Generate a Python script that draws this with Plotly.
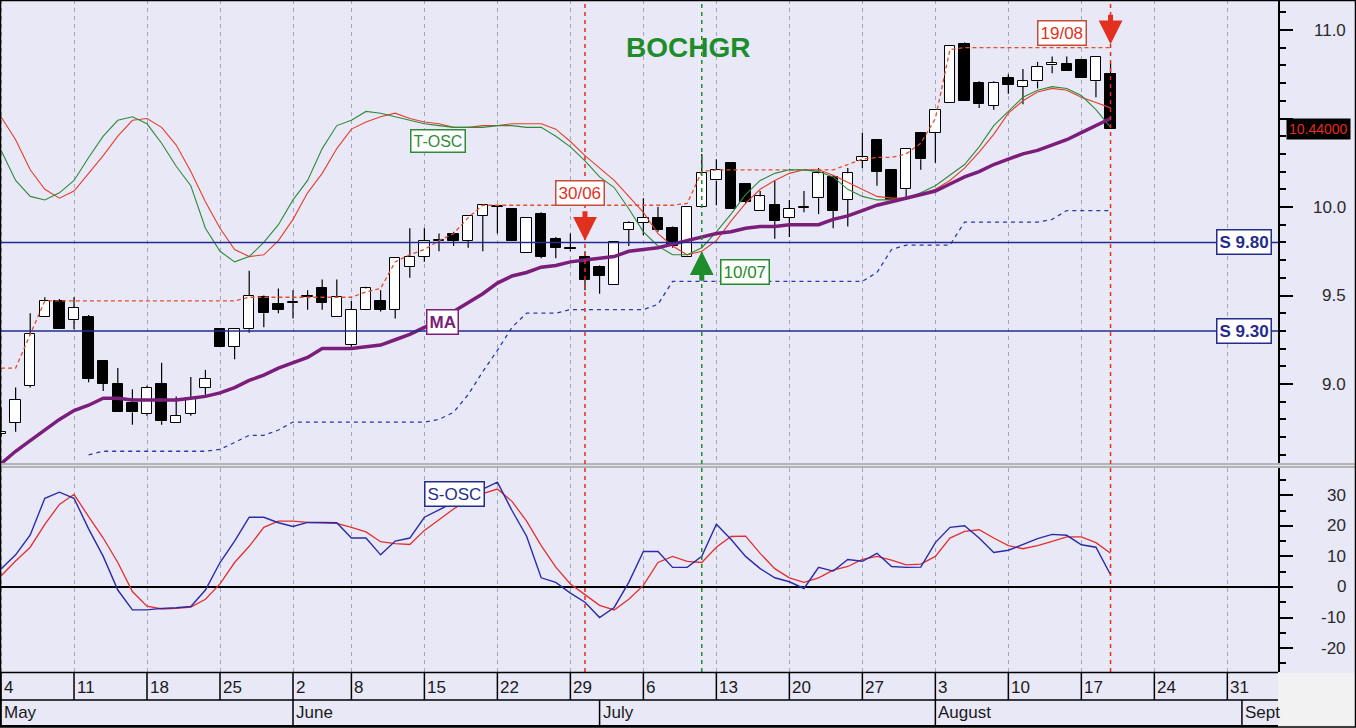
import plotly.graph_objects as go

# ---------------- DATA (trading-day index 0 = Mon 4 May) ----------------
opens = [8.72, 8.78, 8.99, 9.38, 9.47, 9.36, 9.38, 9.13, 9.00, 8.89,
         8.83, 9.00, 8.78, 8.83, 8.98, 9.31, 9.21, 9.31, 9.49, 9.45,
         9.46, 9.49, 9.54, 9.38, 9.22, 9.42, 9.47, 9.42, 9.66, 9.72,
         9.81, 9.85, 9.81, 9.95, 10.00, 9.99, 9.74, 9.96, 9.82, 9.765,
         9.72, 9.66, 9.56, 9.87, 9.91, 9.94, 9.88, 9.72, 10.00, 10.15,
         10.25, 10.13, 9.98, 10.01, 9.94, 9.995, 10.05, 10.17, 10.04, 10.26,
         10.38, 10.21, 10.10, 10.42, 10.42, 10.59, 10.92, 10.70, 10.57, 10.73,
         10.68, 10.71, 10.80, 10.81, 10.83, 10.71, 10.75]
highs = [8.87, 8.98, 9.40, 9.49, 9.48, 9.49, 9.39, 9.13, 9.09, 8.97,
         8.99, 9.12, 8.93, 9.04, 9.08, 9.31, 9.31, 9.64, 9.50, 9.54,
         9.53, 9.53, 9.59, 9.59, 9.47, 9.55, 9.53, 9.71, 9.88, 9.88,
         9.85, 9.86, 9.95, 10.01, 10.01, 9.99, 9.94, 9.97, 9.83, 9.85,
         9.75, 9.67, 9.80, 9.92, 10.05, 10.00, 9.89, 10.00, 10.30, 10.27,
         10.25, 10.13, 10.09, 10.15, 10.04, 10.09, 10.22, 10.18, 10.22, 10.42,
         10.38, 10.21, 10.33, 10.42, 10.55, 10.91, 10.93, 10.71, 10.71, 10.75,
         10.78, 10.82, 10.85, 10.85, 10.83, 10.85, 10.815]
lows = [8.70, 8.73, 8.98, 9.38, 9.31, 9.31, 9.01, 8.96, 8.84, 8.77,
        8.82, 8.77, 8.78, 8.82, 8.93, 9.21, 9.14, 9.29, 9.32, 9.40,
        9.37, 9.42, 9.42, 9.38, 9.21, 9.42, 9.41, 9.37, 9.60, 9.69,
        9.75, 9.78, 9.77, 9.75, 9.85, 9.81, 9.74, 9.71, 9.71, 9.75,
        9.53, 9.51, 9.56, 9.78, 9.84, 9.86, 9.77, 9.72, 10.00, 10.01,
        9.99, 10.02, 9.98, 9.82, 9.83, 9.97, 9.96, 9.88, 9.89, 10.22,
        10.12, 10.04, 10.04, 10.21, 10.25, 10.59, 10.60, 10.56, 10.55, 10.64,
        10.58, 10.67, 10.755, 10.77, 10.73, 10.62, 10.44]
closes = [8.73, 8.91, 9.28, 9.47, 9.31, 9.43, 9.03, 9.00, 8.84, 8.84,
          8.98, 8.79, 8.82, 8.92, 9.03, 9.21, 9.31, 9.50, 9.40, 9.42,
          9.465, 9.495, 9.46, 9.49, 9.42, 9.54, 9.42, 9.71, 9.72, 9.81,
          9.815, 9.81, 9.95, 10.01, 10.005, 9.81, 9.94, 9.72, 9.77, 9.76,
          9.59, 9.61, 9.80, 9.91, 9.94, 9.87, 9.78, 10.00, 10.19, 10.21,
          9.99, 10.03, 10.06, 9.92, 9.99, 10.00, 10.19, 9.98, 10.19, 10.28,
          10.20, 10.04, 10.33, 10.27, 10.55, 10.91, 10.60, 10.58, 10.70, 10.69,
          10.71, 10.79, 10.815, 10.77, 10.73, 10.85, 10.44]
ma = [8.55, 8.62, 8.68, 8.74, 8.80, 8.85, 8.88, 8.92, 8.92, 8.91,
      8.91, 8.91, 8.91, 8.92, 8.93, 8.95, 8.98, 9.02, 9.05, 9.09,
      9.12, 9.15, 9.20, 9.20, 9.20, 9.21, 9.22, 9.25, 9.28, 9.32,
      9.36, 9.41, 9.46, 9.51, 9.57, 9.61, 9.63, 9.66, 9.67, 9.69,
      9.70, 9.71, 9.72, 9.75, 9.76, 9.77, 9.79, 9.81, 9.83, 9.85,
      9.86, 9.88, 9.89, 9.89, 9.90, 9.90, 9.90, 9.93, 9.95, 9.98,
      10.01, 10.03, 10.05, 10.07, 10.09, 10.13, 10.17, 10.20, 10.24, 10.27,
      10.30, 10.32, 10.35, 10.38, 10.42, 10.46, 10.50]
upper_band = [9.09, 9.09, 9.28, 9.47, 9.47, 9.47, 9.47, 9.47, 9.47, 9.47,
              9.47, 9.47, 9.47, 9.47, 9.47, 9.47, 9.47, 9.49, 9.49, 9.49,
              9.49, 9.49, 9.49, 9.49, 9.49, 9.52, 9.54, 9.69, 9.73, 9.76,
              9.81, 9.85, 9.94, 10.01, 10.01, 10.01, 10.01, 10.01, 10.01, 10.01,
              10.01, 10.01, 10.01, 10.01, 10.01, 10.01, 10.01, 10.02, 10.20, 10.21,
              10.21, 10.21, 10.21, 10.21, 10.21, 10.21, 10.21, 10.21, 10.24, 10.27,
              10.28, 10.28, 10.30, 10.36, 10.50, 10.89, 10.90, 10.90, 10.90, 10.90,
              10.90, 10.90, 10.90, 10.90, 10.90, 10.90, 10.90]
lower_band = [None, None, None, None, None, None, 8.60, 8.62, 8.62, 8.62,
              8.62, 8.62, 8.62, 8.62, 8.62, 8.63, 8.67, 8.71, 8.71, 8.74,
              8.785, 8.785, 8.785, 8.785, 8.785, 8.785, 8.785, 8.785, 8.785, 8.785,
              8.80, 8.84, 8.94, 9.07, 9.19, 9.32, 9.40, 9.40, 9.40, 9.42,
              9.42, 9.42, 9.42, 9.42, 9.42, 9.45, 9.58, 9.58, 9.58, 9.58,
              9.58, 9.58, 9.58, 9.58, 9.58, 9.58, 9.58, 9.58, 9.58, 9.58,
              9.63, 9.76, 9.785, 9.785, 9.785, 9.785, 9.915, 9.915, 9.915, 9.915,
              9.915, 9.915, 9.93, 9.98, 9.98, 9.98, 9.98]
tosc_fast = [10.32, 10.15, 10.06, 10.04, 10.08, 10.15, 10.28, 10.40, 10.49, 10.51,
             10.47, 10.36, 10.23, 10.12, 9.88, 9.75, 9.69, 9.72, 9.80, 9.90,
             10.04, 10.15, 10.33, 10.46, 10.49, 10.54, 10.53, 10.51, 10.49, 10.47,
             10.46, 10.45, 10.45, 10.45, 10.46, 10.46, 10.45, 10.45, 10.40, 10.34,
             10.26, 10.17, 10.11, 9.99, 9.86, 9.78, 9.73, 9.73, 9.77, 9.86,
             9.96, 10.07, 10.15, 10.19, 10.21, 10.21, 10.20, 10.17, 10.10, 10.06,
             10.04, 10.04, 10.05, 10.08, 10.12, 10.18, 10.24, 10.34, 10.46, 10.54,
             10.62, 10.66, 10.68, 10.67, 10.63, 10.55, 10.45]
tosc_slow = [10.51, 10.38, 10.21, 10.10, 10.05, 10.09, 10.19, 10.29, 10.40, 10.49,
             10.50, 10.45, 10.35, 10.20, 10.03, 9.88, 9.76, 9.72, 9.73, 9.81,
             9.93, 10.08, 10.19, 10.33, 10.44, 10.48, 10.51, 10.53, 10.50, 10.48,
             10.47, 10.45, 10.45, 10.46, 10.46, 10.47, 10.47, 10.47, 10.44, 10.37,
             10.29, 10.22, 10.15, 10.06, 9.97, 9.85, 9.78, 9.73, 9.75, 9.81,
             9.92, 10.02, 10.10, 10.15, 10.19, 10.21, 10.21, 10.18, 10.14, 10.10,
             10.06, 10.05, 10.05, 10.07, 10.10, 10.15, 10.22, 10.31, 10.41, 10.53,
             10.60, 10.65, 10.67, 10.66, 10.62, 10.59, 10.56]
sosc_fast = [5.9, 10.5, 17, 29, 31, 29, 19, 10, -1, -7.5,
             -7.5, -7, -6.8, -6.4, -1, 8, 15, 22.8, 22.8, 21,
             19.8, 21.1, 21.1, 21, 16, 16, 10.5, 15, 16, 22.8,
             25.2, 27.5, 30, 32, 34.3, 25, 16.6, 3, 1.5, -2,
             -5, -10, -6.7, 1.5, 11.6, 11.6, 6.4, 6.4, 10, 20.5,
             15.6, 10, 6, 3, 1.7, -0.5, 6.4, 5.2, 9, 8.4,
             11, 6.7, 6.4, 6.5, 14.5, 19.5, 20, 16, 11.3, 12,
             14, 15.8, 17.2, 16.9, 13.8, 13, 4]
sosc_slow = [3.6, 8.5, 13, 20.5, 27, 30.3, 23, 16, 8, -1.5,
             -6.3, -7.2, -7, -6.6, -4, 1, 8, 13.3, 19.5, 21.5,
             21.5, 21.1, 21, 20.8, 19.5, 18, 14.8, 14.2, 13.9, 18.5,
             22, 25.5, 28.5, 30.5, 32, 28, 21.5, 13.5, 6.5, 1,
             -2.5, -6, -7.5, -4, 0.5, 8, 10, 8.4, 8, 13,
             16.5, 16.6, 11, 6, 3, 1.5, 3, 5.5, 6.7, 9,
             10, 8.8, 7.2, 7.5, 10, 16, 18.2, 18.7, 16, 13.5,
             12.5, 13.5, 14.9, 16.4, 16.4, 14.5, 11]

week_starts = [0, 5, 10, 15, 20, 24, 29, 34, 39, 44, 49, 54, 59, 64, 69, 74, 79, 84]
week_labels = ['4', '11', '18', '25', '2', '8', '15', '22', '29', '6', '13', '20',
               '27', '3', '10', '17', '24', '31']
month_starts = [0, 20, 41, 64, 85]
month_labels = ['May', 'June', 'July', 'August', 'Sept']
price_ticks = [9.0, 9.5, 10.0, 10.5, 11.0]
price_label_vals = [9.0, 9.5, 10.0, 11.0]          # 10.5 is hidden by the last-price box
price_tick_labels = ['9.0', '9.5', '10.0', '11.0']
osc_ticks = [-20, -10, 0, 10, 20, 30]
osc_tick_labels = ['-20', '-10', '0', '10', '20', '30']
support_levels = [9.80, 9.30]
support_labels = ['S 9.80', 'S 9.30']
signal_days = [40, 48, 76]
signal_labels = ['30/06', '10/07', '19/08']
signal_prices = [9.81, 9.75, 10.92]
signal_dirs = ['down', 'up', 'down']

n = len(closes)
for arr in (opens, highs, lows, ma, upper_band, lower_band, tosc_fast, tosc_slow, sosc_fast, sosc_slow):
    assert len(arr) == n, len(arr)
idx = list(range(n))

# ---------------- GEOMETRY / STYLE ----------------
W, H = 1356, 728
MR, MB = 78, 56
PW, PH = W - MR, H - MB
FONT = 'Liberation Sans'
BG = '#E8E8F7'
RED = '#E2301E'
GREEN = '#1E8C2A'
NAVY = '#232C8E'
PURPLE = '#7B1E7B'


def py(p):
    """pixel row (from top of plot area) -> paper y"""
    return (PH - p) / PH


def pxx(p):
    return p / PW


x_range = [-0.07, 87.47]
main_dom = [py(464), 1.0]
osc_dom = [0.0, py(468)]
main_range = [8.548, 11.1695]
osc_range = [-27.8, 38.9]

fig = go.Figure()

# candle bodies
body_base = [min(o, c) for o, c in zip(opens, closes)]
body_h = [max(abs(c - o), 0.006) for o, c in zip(opens, closes)]
body_col = ['white' if c >= o else 'black' for o, c in zip(opens, closes)]
fig.add_trace(go.Bar(x=idx, y=body_h, base=body_base, width=0.72,
                     marker=dict(color=body_col, line=dict(color='black', width=1)),
                     xaxis='x', yaxis='y', hoverinfo='skip'))
# wicks
wx, wy = [], []
for i, o, h, l, c in zip(idx, opens, highs, lows, closes):
    top, bot = max(o, c), min(o, c)
    wx += [i, i, None, i, i, None]
    wy += [h, top, None, bot, l, None]
fig.add_trace(go.Scatter(x=wx, y=wy, mode='lines', line=dict(color='black', width=1.2),
                         xaxis='x', yaxis='y', hoverinfo='skip'))
# bands
fig.add_trace(go.Scatter(x=idx, y=upper_band, mode='lines',
                         line=dict(color='#E0502C', width=1.3, dash='4px,3px'),
                         xaxis='x', yaxis='y'))
fig.add_trace(go.Scatter(x=idx, y=lower_band, mode='lines',
                         line=dict(color='#2A3AA8', width=1.3, dash='4px,4px'),
                         xaxis='x', yaxis='y'))
# T-OSC
fig.add_trace(go.Scatter(x=idx, y=tosc_slow, mode='lines',
                         line=dict(color='#E2402A', width=1.1), xaxis='x', yaxis='y'))
fig.add_trace(go.Scatter(x=idx, y=tosc_fast, mode='lines',
                         line=dict(color='#2E8B3A', width=1.1), xaxis='x', yaxis='y'))
# MA
fig.add_trace(go.Scatter(x=idx, y=ma, mode='lines',
                         line=dict(color=PURPLE, width=3.5), xaxis='x', yaxis='y'))
# S-OSC
fig.add_trace(go.Scatter(x=idx, y=sosc_slow, mode='lines',
                         line=dict(color='#E2302E', width=1.3), xaxis='x2', yaxis='y2'))
fig.add_trace(go.Scatter(x=idx, y=sosc_fast, mode='lines',
                         line=dict(color='#2B2BA8', width=1.4), xaxis='x2', yaxis='y2'))

shapes = []
annotations = []

# separator between panels
shapes.append(dict(type='rect', xref='paper', yref='paper', x0=0, x1=W / PW,
                   y0=py(468), y1=py(463), fillcolor='#B4B4B8', line=dict(width=0),
                   layer='above'))
shapes.append(dict(type='line', xref='paper', yref='paper', x0=0, x1=W / PW,
                   y0=py(465.5), y1=py(465.5), line=dict(color='#E4E4EC', width=1)))

# support lines + labels
for lvl, lab in zip(support_levels, support_labels):
    shapes.append(dict(type='line', xref='paper', yref='y', x0=0, x1=1, y0=lvl, y1=lvl,
                       line=dict(color=NAVY, width=1.5)))
    annotations.append(dict(xref='paper', yref='y', x=pxx(1272), y=lvl, xanchor='right',
                            yanchor='middle', text='<b>%s</b>' % lab, showarrow=False,
                            font=dict(family=FONT, size=17, color=NAVY),
                            bgcolor='white', bordercolor=NAVY, borderwidth=1.5, borderpad=2))

# signals
for d, lab, p, dr in zip(signal_days, signal_labels, signal_prices, signal_dirs):
    col = RED if dr == 'down' else GREEN
    shapes.append(dict(type='line', xref='x', yref='paper', x0=d, x1=d, y0=0, y1=1,
                       line=dict(color=col, width=1.5, dash='4px,4px')))
    annotations.append(dict(xref='x', yref='y', x=d, y=p, text='', showarrow=True,
                            ax=0, ay=(-31 if dr == 'down' else 31), arrowhead=2,
                            arrowsize=0.95, arrowwidth=5, arrowcolor=col))

label_off = {'30/06': (-5, 48), '10/07': (43, -21), '19/08': (-49, 11)}
for d, lab, p, dr in zip(signal_days, signal_labels, signal_prices, signal_dirs):
    col = RED if dr == 'down' else GREEN
    bcol = '#C84A3A' if dr == 'down' else GREEN
    xs, ys = label_off[lab]
    annotations.append(dict(xref='x', yref='y', x=d, y=p, xshift=xs, yshift=ys,
                            text=lab, showarrow=False,
                            font=dict(family=FONT, size=17, color=col),
                            bgcolor='white', bordercolor=bcol, borderwidth=1.5, borderpad=2))

# indicator labels
annotations.append(dict(xref='paper', yref='paper', x=pxx(437.5), y=py(128.5), text='T-OSC',
                        showarrow=False, font=dict(family=FONT, size=16, color='#2E8B3A'),
                        bgcolor='white', bordercolor='#2E8B3A', borderwidth=1.5, borderpad=2))
annotations.append(dict(xref='paper', yref='paper', x=pxx(442.5), y=py(321.5), text='<b>MA</b>',
                        showarrow=False, font=dict(family=FONT, size=17, color=PURPLE),
                        bgcolor='white', bordercolor=PURPLE, borderwidth=1.5, borderpad=2))
annotations.append(dict(xref='paper', yref='paper', x=pxx(454), y=py(507), text='S-OSC',
                        showarrow=False, font=dict(family=FONT, size=17, color=NAVY),
                        bgcolor='white', bordercolor=NAVY, borderwidth=1.5, borderpad=2))
# title
annotations.append(dict(xref='paper', yref='paper', x=pxx(688), y=py(30), text='<b>BOCHGR</b>',
                        showarrow=False, font=dict(family=FONT, size=28, color=GREEN)))

# y tick labels (right aligned)
for v, t in zip(price_label_vals, price_tick_labels):
    annotations.append(dict(xref='paper', yref='y', x=pxx(1348), y=v, text=t, xanchor='right',
                            yanchor='middle', showarrow=False,
                            font=dict(family=FONT, size=17, color='#2A2A2A')))
for v, t in zip(osc_ticks, osc_tick_labels):
    annotations.append(dict(xref='paper', yref='y2', x=pxx(1348), y=v, text=t, xanchor='right',
                            yanchor='middle', showarrow=False,
                            font=dict(family=FONT, size=17, color='#2A2A2A')))
# last price box
annotations.append(dict(xref='paper', yref='y', x=pxx(1286), y=closes[-1], xanchor='left',
                        yanchor='middle', text='%.5f' % closes[-1], showarrow=False,
                        font=dict(family=FONT, size=14, color='#E8281E'),
                        bgcolor='black', borderpad=2))

# date axis rows
shapes.append(dict(type='rect', xref='paper', yref='paper', x0=1.0, x1=W / PW,
                   y0=py(H), y1=py(PH + 1), fillcolor='#F2F2F2', line=dict(width=0)))
for yy, lw in ((PH + 0.5, 1.5), (700, 1.5), (726, 2)):
    shapes.append(dict(type='line', xref='paper', yref='paper', x0=0, x1=1, y0=py(yy), y1=py(yy),
                       line=dict(color='black', width=lw)))
for d, t in zip(week_starts, week_labels):
    shapes.append(dict(type='line', xref='x', yref='paper', x0=d, x1=d, y0=py(700), y1=py(PH),
                       line=dict(color='black', width=1.5)))
    annotations.append(dict(xref='x', yref='paper', x=d, y=py(687), xanchor='left', xshift=1,
                            yanchor='middle', text=t, showarrow=False,
                            font=dict(family=FONT, size=17, color='#1A1A1A')))
for d, t in zip(month_starts, month_labels):
    shapes.append(dict(type='line', xref='x', yref='paper', x0=d, x1=d, y0=py(726), y1=py(700),
                       line=dict(color='black', width=1.5)))
    annotations.append(dict(xref='x', yref='paper', x=d, y=py(712), xanchor='left', xshift=1,
                            yanchor='middle', text=t, showarrow=False,
                            font=dict(family=FONT, size=17, color='#1A1A1A')))
# outer frame
shapes.append(dict(type='rect', xref='paper', yref='paper', x0=pxx(0.5), x1=(W - 0.5) / PW,
                   y0=py(H - 1), y1=py(0.5), line=dict(color='black', width=1.5)))

common_x = dict(range=x_range, showgrid=True, gridcolor='#A6A6B2', gridwidth=1,
                griddash='4px,4px', tickmode='array', tickvals=week_starts,
                showticklabels=False, ticks='', zeroline=False, showline=False, fixedrange=True)
yaxis_common = dict(side='right', showgrid=False, showline=True, linecolor='black',
                    linewidth=1.5, ticks='outside', ticklen=13, tickwidth=1.5,
                    tickcolor='black', showticklabels=False, fixedrange=True)

fig.update_layout(
    width=W, height=H, margin=dict(l=0, r=MR, t=0, b=MB, pad=0),
    paper_bgcolor=BG, plot_bgcolor=BG, showlegend=False, bargap=0,
    font=dict(family=FONT),
    xaxis=dict(domain=[0, 1], anchor='y', **common_x),
    xaxis2=dict(domain=[0, 1], anchor='y2', matches='x', **common_x),
    yaxis=dict(domain=main_dom, anchor='x', range=main_range, zeroline=False,
               tickmode='array', tickvals=price_ticks,
               minor=dict(ticks='outside', ticklen=6, tickwidth=1.5, tickcolor='black',
                          dtick=0.1, tick0=0, showgrid=False),
               **yaxis_common),
    yaxis2=dict(domain=osc_dom, anchor='x2', range=osc_range, zeroline=True,
                zerolinecolor='black', zerolinewidth=1.5,
                tickmode='array', tickvals=osc_ticks,
                minor=dict(ticks='outside', ticklen=6, tickwidth=1.5, tickcolor='black',
                           dtick=5, tick0=0, showgrid=False),
                **yaxis_common),
    shapes=shapes, annotations=annotations,
)

fig.write_html("out.html", config={'displayModeBar': False},
               post_script="document.body.style.margin='0';")
